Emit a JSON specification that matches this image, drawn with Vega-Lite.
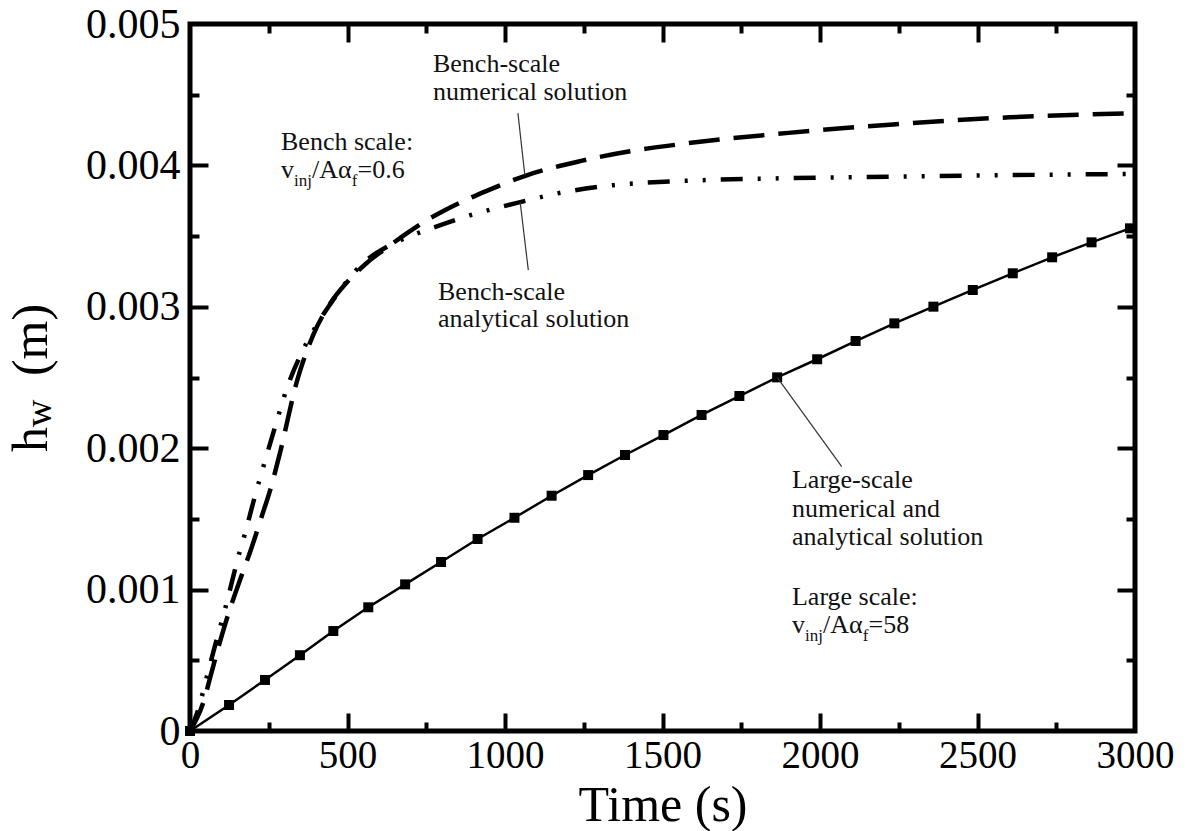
{
  "$schema": "https://vega.github.io/schema/vega-lite/v6.json",
  "width": 945,
  "height": 707,
  "autosize": {"type": "none"},
  "padding": {"left": 190, "top": 24, "right": 53, "bottom": 100},
  "config": {
    "font": "Liberation Serif",
    "view": {"stroke": "#000", "strokeWidth": 5},
    "axis": {
      "grid": false, "domain": false, "tickColor": "#000", "tickWidth": 4, "tickCap": "butt",
      "labelColor": "#000", "labelFont": "Liberation Serif", "titleFont": "Liberation Serif",
      "titleColor": "#000", "titleFontWeight": "normal", "labelOverlap": false, "labelFlush": false
    }
  },
  "resolve": {"axis": {"x": "independent", "y": "independent"}},
  "datasets": {
    "large": [
      {"t": 0, "h": 0}, {"t": 124, "h": 0.000184}, {"t": 238, "h": 0.000361}, {"t": 349, "h": 0.000536},
      {"t": 455, "h": 0.000707}, {"t": 566, "h": 0.000875}, {"t": 683, "h": 0.001037}, {"t": 797, "h": 0.001195},
      {"t": 913, "h": 0.001358}, {"t": 1030, "h": 0.001508}, {"t": 1148, "h": 0.001664}, {"t": 1264, "h": 0.00181},
      {"t": 1381, "h": 0.001952}, {"t": 1503, "h": 0.002093}, {"t": 1624, "h": 0.002235}, {"t": 1744, "h": 0.002369},
      {"t": 1864, "h": 0.002501}, {"t": 1991, "h": 0.002629}, {"t": 2113, "h": 0.002758}, {"t": 2236, "h": 0.002883},
      {"t": 2360, "h": 0.003001}, {"t": 2485, "h": 0.003119}, {"t": 2612, "h": 0.003237}, {"t": 2737, "h": 0.00335},
      {"t": 2862, "h": 0.003456}, {"t": 2984, "h": 0.003555}
    ],
    "numerical": [
      {"t": 0, "h": 0}, {"t": 42, "h": 0.0002}, {"t": 69, "h": 0.00042}, {"t": 95, "h": 0.00063},
      {"t": 122, "h": 0.00083}, {"t": 159, "h": 0.00107}, {"t": 196, "h": 0.0013}, {"t": 228, "h": 0.00152},
      {"t": 254, "h": 0.0017}, {"t": 286, "h": 0.00197}, {"t": 339, "h": 0.00247}, {"t": 391, "h": 0.0028},
      {"t": 444, "h": 0.00302}, {"t": 497, "h": 0.00317}, {"t": 561, "h": 0.00331}, {"t": 620, "h": 0.00341},
      {"t": 688, "h": 0.00352}, {"t": 750, "h": 0.00361}, {"t": 815, "h": 0.00369}, {"t": 942, "h": 0.00382},
      {"t": 1069, "h": 0.00393}, {"t": 1238, "h": 0.00403}, {"t": 1397, "h": 0.0041}, {"t": 1556, "h": 0.00415},
      {"t": 1900, "h": 0.00423}, {"t": 2232, "h": 0.00429}, {"t": 2600, "h": 0.00434}, {"t": 3000, "h": 0.00437}
    ],
    "analytical": [
      {"t": 0, "h": 0}, {"t": 26, "h": 0.00015}, {"t": 53, "h": 0.00038}, {"t": 79, "h": 0.0006},
      {"t": 111, "h": 0.00086}, {"t": 127, "h": 0.001}, {"t": 153, "h": 0.00123}, {"t": 175, "h": 0.0014},
      {"t": 206, "h": 0.00166}, {"t": 233, "h": 0.00187}, {"t": 270, "h": 0.00215}, {"t": 307, "h": 0.00242},
      {"t": 360, "h": 0.0027}, {"t": 413, "h": 0.00291}, {"t": 455, "h": 0.00305}, {"t": 550, "h": 0.00331},
      {"t": 630, "h": 0.00343}, {"t": 700, "h": 0.0035}, {"t": 772, "h": 0.00356}, {"t": 878, "h": 0.00364},
      {"t": 1048, "h": 0.00374}, {"t": 1185, "h": 0.00381}, {"t": 1344, "h": 0.00386}, {"t": 1556, "h": 0.00389},
      {"t": 2232, "h": 0.00392}, {"t": 3000, "h": 0.00394}
    ],
    "leaders": [
      {"t": 1041, "h": 0.00437, "t2": 1063, "h2": 0.00393},
      {"t": 1048, "h": 0.003743, "t2": 1074, "h2": 0.003259},
      {"t": 1864, "h": 0.002501, "t2": 2069, "h2": 0.001869}
    ],
    "notes": [
      {"t": 771.4, "h": 0.004661, "text": "Bench-scale"},
      {"t": 771.4, "h": 0.004463, "text": "numerical solution"},
      {"t": 288.9, "h": 0.004109, "text": "Bench scale:"},
      {"t": 288.9, "h": 0.003909, "text": "v"},
      {"t": 387.3, "h": 0.003909, "text": "/Aα"},
      {"t": 531.7, "h": 0.003909, "text": "=0.6"},
      {"t": 787.3, "h": 0.003048, "text": "Bench-scale"},
      {"t": 787.3, "h": 0.002857, "text": "analytical solution"},
      {"t": 1911, "h": 0.001719, "text": "Large-scale"},
      {"t": 1911, "h": 0.001516, "text": "numerical and"},
      {"t": 1911, "h": 0.001315, "text": "analytical solution"},
      {"t": 1911, "h": 0.000891, "text": "Large scale:"},
      {"t": 1911, "h": 0.000691, "text": "v"},
      {"t": 2009.5, "h": 0.000691, "text": "/Aα"},
      {"t": 2154, "h": 0.000691, "text": "=58"}
    ],
    "subs": [
      {"t": 330.2, "h": 0.003854, "text": "inj"},
      {"t": 513.7, "h": 0.003854, "text": "f"},
      {"t": 1952.4, "h": 0.000636, "text": "inj"},
      {"t": 2135.9, "h": 0.000636, "text": "f"}
    ],
    "ytitle": [
      {"t": -454, "h": 0.001973, "text": "h"},
      {"t": -454, "h": 0.00251, "text": "(m)"}
    ],
    "ytitlesub": [
      {"t": -441, "h": 0.00215, "text": "w"}
    ]
  },
  "layer": [
    {
      "data": {"name": "large"},
      "mark": {"type": "line", "color": "#000", "strokeWidth": 2.5},
      "encoding": {
        "x": {"field": "t", "type": "quantitative", "scale": {"domain": [0, 3000], "nice": false},
          "axis": {"orient": "bottom", "values": [0, 500, 1000, 1500, 2000, 2500, 3000], "ticks": false,
            "labelFontSize": 39, "labelPadding": 5, "format": "d",
            "title": "Time (s)", "titleFontSize": 50, "titleY": 89, "titleBaseline": "alphabetic"}},
        "y": {"field": "h", "type": "quantitative", "scale": {"domain": [0, 0.005], "nice": false},
          "axis": {"orient": "left", "values": [0, 0.001, 0.002, 0.003, 0.004, 0.005], "ticks": false,
            "labelFontSize": 42, "labelPadding": 10, "format": ".3~f", "title": null}}
      }
    },
    {
      "data": {"name": "large"},
      "mark": {"type": "point", "shape": "square", "filled": true, "color": "#000", "size": 100, "opacity": 1},
      "encoding": {
        "x": {"field": "t", "type": "quantitative", "scale": {"domain": [0, 3000], "nice": false},
          "axis": {"orient": "bottom", "values": [500, 1000, 1500, 2000, 2500], "labels": false, "tickSize": -18, "title": null}},
        "y": {"field": "h", "type": "quantitative", "scale": {"domain": [0, 0.005], "nice": false},
          "axis": {"orient": "left", "values": [0.001, 0.002, 0.003, 0.004], "labels": false, "tickSize": -18, "title": null}}
      }
    },
    {
      "data": {"name": "numerical"},
      "mark": {"type": "line", "color": "#000", "strokeWidth": 4.5, "strokeDash": [31, 14], "strokeCap": "butt", "interpolate": "monotone"},
      "encoding": {
        "x": {"field": "t", "type": "quantitative", "scale": {"domain": [0, 3000], "nice": false},
          "axis": {"orient": "bottom", "values": [250, 750, 1250, 1750, 2250, 2750], "labels": false, "tickSize": -9, "title": null}},
        "y": {"field": "h", "type": "quantitative", "scale": {"domain": [0, 0.005], "nice": false},
          "axis": {"orient": "left", "values": [0.0005, 0.0015, 0.0025, 0.0035, 0.0045], "labels": false, "tickSize": -9, "title": null}}
      }
    },
    {
      "data": {"name": "analytical"},
      "mark": {"type": "line", "color": "#000", "strokeWidth": 4.5, "strokeDash": [22, 15, 3, 15, 3, 15], "strokeCap": "butt", "interpolate": "monotone"},
      "encoding": {
        "x": {"field": "t", "type": "quantitative", "scale": {"domain": [0, 3000], "nice": false},
          "axis": {"orient": "top", "values": [500, 1000, 1500, 2000, 2500], "labels": false, "tickSize": -18, "title": null}},
        "y": {"field": "h", "type": "quantitative", "scale": {"domain": [0, 0.005], "nice": false},
          "axis": {"orient": "right", "values": [0.001, 0.002, 0.003, 0.004], "labels": false, "tickSize": -18, "title": null}}
      }
    },
    {
      "data": {"name": "leaders"},
      "mark": {"type": "rule", "color": "#333", "strokeWidth": 1.2},
      "encoding": {
        "x": {"field": "t", "type": "quantitative", "scale": {"domain": [0, 3000], "nice": false},
          "axis": {"orient": "top", "values": [250, 750, 1250, 1750, 2250, 2750], "labels": false, "tickSize": -9, "title": null}},
        "y": {"field": "h", "type": "quantitative", "scale": {"domain": [0, 0.005], "nice": false},
          "axis": {"orient": "right", "values": [0.0005, 0.0015, 0.0025, 0.0035, 0.0045], "labels": false, "tickSize": -9, "title": null}},
        "x2": {"field": "t2"},
        "y2": {"field": "h2"}
      }
    },
    {
      "data": {"name": "notes"},
      "mark": {"type": "text", "align": "left", "baseline": "alphabetic", "fontSize": 26, "font": "Liberation Serif", "color": "#111"},
      "encoding": {
        "x": {"field": "t", "type": "quantitative", "scale": {"domain": [0, 3000], "nice": false}, "axis": null},
        "y": {"field": "h", "type": "quantitative", "scale": {"domain": [0, 0.005], "nice": false}, "axis": null},
        "text": {"field": "text"}
      }
    },
    {
      "data": {"name": "subs"},
      "mark": {"type": "text", "align": "left", "baseline": "alphabetic", "fontSize": 17, "font": "Liberation Serif", "color": "#111"},
      "encoding": {
        "x": {"field": "t", "type": "quantitative", "scale": {"domain": [0, 3000], "nice": false}, "axis": null},
        "y": {"field": "h", "type": "quantitative", "scale": {"domain": [0, 0.005], "nice": false}, "axis": null},
        "text": {"field": "text"}
      }
    },
    {
      "data": {"name": "ytitle"},
      "mark": {"type": "text", "align": "left", "baseline": "alphabetic", "angle": 270, "fontSize": 50, "font": "Liberation Serif", "color": "#000"},
      "encoding": {
        "x": {"field": "t", "type": "quantitative", "scale": {"domain": [0, 3000], "nice": false}, "axis": null},
        "y": {"field": "h", "type": "quantitative", "scale": {"domain": [0, 0.005], "nice": false}, "axis": null},
        "text": {"field": "text"}
      }
    },
    {
      "data": {"name": "ytitlesub"},
      "mark": {"type": "text", "align": "left", "baseline": "alphabetic", "angle": 270, "fontSize": 38, "font": "Liberation Serif", "color": "#000"},
      "encoding": {
        "x": {"field": "t", "type": "quantitative", "scale": {"domain": [0, 3000], "nice": false}, "axis": null},
        "y": {"field": "h", "type": "quantitative", "scale": {"domain": [0, 0.005], "nice": false}, "axis": null},
        "text": {"field": "text"}
      }
    }
  ]
}
